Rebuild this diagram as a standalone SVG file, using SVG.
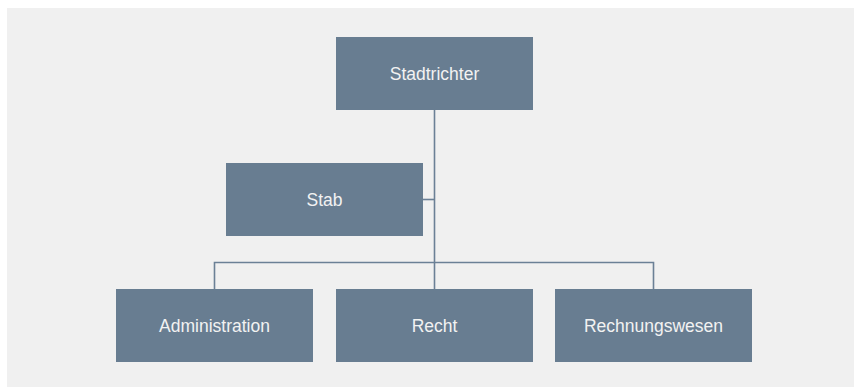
<svg xmlns="http://www.w3.org/2000/svg" width="854" height="387" viewBox="0 0 854 387">
<style>
.box{fill:#687d91}
.lbl{font-family:"Liberation Sans",Arial,sans-serif;font-size:17.5px;fill:#f2f2f2;text-anchor:middle}
.con{fill:none;stroke:#6b8096;stroke-width:1.6}
</style>
<rect x="0" y="0" width="854" height="387" fill="#ffffff"/>
<rect x="7" y="8" width="847" height="379" fill="#f0f0f0"/>
<g id="connectors">
<path class="con" d="M434.5 110 V289"/>
<path class="con" d="M423 199.5 H434.5"/>
<path class="con" d="M214.5 289 V262.5 H653.5 V289"/>
</g>
<g id="stadtrichter"><rect class="box" x="336" y="37" width="197" height="73"/><text class="lbl" x="434.5" y="79.8">Stadtrichter</text></g>
<g id="stab"><rect class="box" x="226" y="163" width="197" height="73"/><text class="lbl" x="324.5" y="205.8">Stab</text></g>
<g id="administration"><rect class="box" x="116" y="289" width="197" height="73"/><text class="lbl" x="214.5" y="331.8">Administration</text></g>
<g id="recht"><rect class="box" x="336" y="289" width="197" height="73"/><text class="lbl" x="434.5" y="331.8">Recht</text></g>
<g id="rechnungswesen"><rect class="box" x="555" y="289" width="197" height="73"/><text class="lbl" x="653.5" y="331.8">Rechnungswesen</text></g>
</svg>
